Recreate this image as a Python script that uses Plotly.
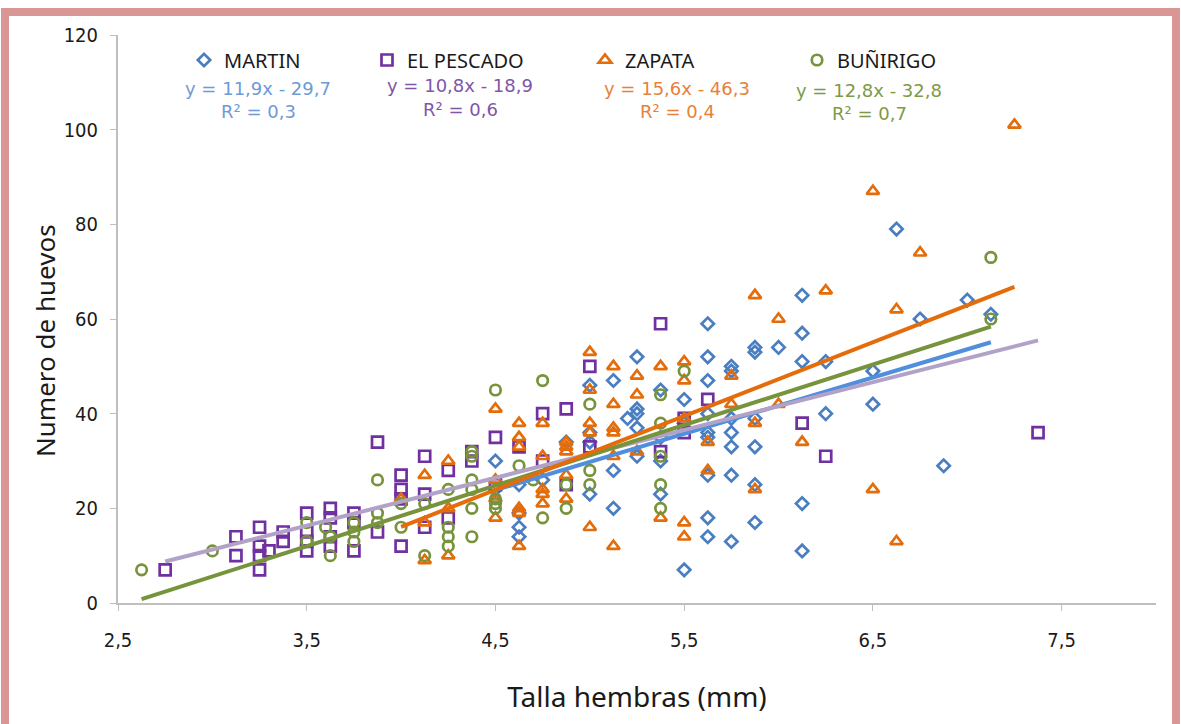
import plotly.graph_objects as go

# ---------------- data ----------------
martin_x = [4.5, 4.5, 4.625, 4.625, 4.625, 4.625, 4.75, 4.875, 5.0, 5.0, 5.0, 5.0,
            5.125, 5.125, 5.125, 5.2, 5.25, 5.25, 5.25, 5.25, 5.25, 5.375, 5.375, 5.375, 5.375,
            5.5, 5.5, 5.5, 5.625, 5.625, 5.625, 5.625, 5.625, 5.625, 5.625, 5.625, 5.625,
            5.75, 5.75, 5.75, 5.75, 5.75, 5.75, 5.75, 5.875, 5.875, 5.875, 5.875, 5.875, 5.875,
            6.0, 6.125, 6.125, 6.125, 6.125, 6.125, 6.25, 6.25, 6.5, 6.5, 6.625, 6.75, 6.875,
            7.0, 7.125]
martin_y = [24, 30, 25, 19, 16, 14, 26, 34, 46, 36, 34, 23,
            47, 28, 20, 39, 52, 41, 40, 37, 31, 45, 35, 30, 23,
            43, 38, 7, 59, 52, 47, 40, 36, 35, 27, 18, 14,
            50, 49, 39, 36, 33, 27, 13, 54, 53, 39, 33, 25, 17,
            54, 65, 57, 51, 21, 11, 51, 40, 49, 42, 79, 60, 29,
            64, 61]

pescado_x = [2.75, 3.125, 3.125, 3.25, 3.25, 3.25, 3.25, 3.3, 3.375, 3.375, 3.5, 3.5, 3.5, 3.5,
             3.625, 3.625, 3.625, 3.625, 3.75, 3.75, 3.75, 3.875, 3.875, 4.0, 4.0, 4.0, 4.0,
             4.125, 4.125, 4.125, 4.25, 4.25, 4.375, 4.375, 4.5, 4.5, 4.625, 4.75, 4.75,
             4.875, 4.875, 5.0, 5.0, 5.375, 5.375, 5.5, 5.5, 5.625, 6.125, 6.25, 7.375]
pescado_y = [7, 14, 10, 16, 12, 10, 7, 11, 15, 13, 19, 15, 13, 11,
             20, 18, 14, 12, 19, 17, 11, 34, 15, 27, 24, 22, 12,
             31, 23, 16, 28, 18, 32, 30, 35, 25, 33, 40, 30,
             41, 25, 50, 33, 59, 32, 39, 36, 43, 38, 31, 36]

zapata_x = [4.0, 4.125, 4.125, 4.125, 4.25, 4.25, 4.25, 4.5, 4.5, 4.5, 4.5,
            4.625, 4.625, 4.625, 4.625, 4.625, 4.625, 4.75, 4.75, 4.75, 4.75, 4.75,
            4.875, 4.875, 4.875, 4.875, 4.875, 5.0, 5.0, 5.0, 5.0, 5.0,
            5.125, 5.125, 5.125, 5.125, 5.125, 5.125, 5.25, 5.25, 5.25, 5.375, 5.375,
            5.5, 5.5, 5.5, 5.5, 5.5, 5.625, 5.625, 5.75, 5.75, 5.875, 5.875, 5.875,
            6.0, 6.0, 6.125, 6.25, 6.5, 6.5, 6.625, 6.625, 6.75, 7.25]
zapata_y = [22, 27, 17, 9, 30, 20, 10, 41, 26, 22, 18,
            38, 35, 33, 20, 19, 12, 38, 31, 24, 23, 21,
            34, 33, 32, 27, 22, 53, 45, 38, 36, 16,
            50, 42, 37, 36, 31, 12, 48, 44, 32, 50, 18,
            51, 47, 39, 17, 14, 34, 28, 48, 42, 65, 38, 24,
            60, 42, 34, 66, 87, 24, 62, 13, 74, 101]

bunirigo_x = [2.625, 3.0, 3.5, 3.5, 3.6, 3.625, 3.625, 3.75, 3.75, 3.75, 3.875, 3.875, 3.875,
              4.0, 4.0, 4.125, 4.125, 4.25, 4.25, 4.25, 4.25,
              4.375, 4.375, 4.375, 4.375, 4.375, 4.375, 4.5, 4.5, 4.5, 4.5, 4.625, 4.7,
              4.75, 4.75, 4.875, 4.875, 5.0, 5.0, 5.0, 5.375, 5.375, 5.375, 5.375, 5.375,
              5.5, 7.125, 7.125]
bunirigo_y = [7, 11, 17, 13, 16, 14, 10, 17, 15, 13, 26, 19, 17,
              21, 16, 21, 10, 24, 16, 14, 12,
              32, 31, 26, 24, 20, 14, 45, 22, 21, 20, 29, 26,
              47, 18, 25, 20, 42, 28, 25, 44, 38, 31, 25, 20,
              49, 73, 60]

series_names = ["MARTIN", "EL PESCADO", "ZAPATA", "BUÑIRIGO"]
equations = ["y = 11,9x - 29,7", "y = 10,8x - 18,9", "y = 15,6x - 46,3", "y = 12,8x - 32,8"]
r2_labels = ["R² = 0,3", "R² = 0,6", "R² = 0,4", "R² = 0,7"]
trend_slope = [11.9, 10.1, 15.6, 12.8]
trend_intercept = [-29.7, -19.0, -46.3, -32.8]

x_ticks = [2.5, 3.5, 4.5, 5.5, 6.5, 7.5]
y_ticks = [0, 20, 40, 60, 80, 100, 120]

# ---------------- style ----------------
marker_symbols = ["diamond-open", "square-open", "triangle-up-open", "circle-open"]
marker_sizes = [9.5, 11, 11, 10.5]
marker_colors = ["#4A7EC0", "#7030A0", "#E46C0A", "#77933C"]
line_colors = ["#4F8FDC", "#B3A2C7", "#E46C0A", "#77933C"]
eq_colors = ["#6E9AD6", "#7F56A8", "#E9803A", "#7E9A48"]

W, H = 1181, 724
L, R, T, B = 118, 25, 35, 121
pw, ph = W - L - R, H - T - B


def px2paper_x(px):
    return (px - L) / pw


def px2paper_y(py):
    return (H - B - py) / ph


xs = [martin_x, pescado_x, zapata_x, bunirigo_x]
ys = [martin_y, pescado_y, zapata_y, bunirigo_y]

fig = go.Figure()
legend_ids = ["legend", "legend2", "legend3", "legend4"]
for i in range(4):
    fig.add_trace(go.Scatter(
        x=xs[i], y=ys[i], mode="markers", name=series_names[i],
        legend=legend_ids[i],
        marker=dict(symbol=marker_symbols[i], size=marker_sizes[i],
                    color=marker_colors[i], line=dict(width=2.7, color=marker_colors[i])),
        hoverinfo="x+y"))

for i in [0, 1, 3, 2]:
    x0, x1 = min(xs[i]), max(xs[i])
    fig.add_trace(go.Scatter(
        x=[x0, x1], y=[trend_slope[i] * x0 + trend_intercept[i], trend_slope[i] * x1 + trend_intercept[i]],
        mode="lines", line=dict(color=line_colors[i], width=4), showlegend=False, hoverinfo="skip"))

legend_font = dict(family="Noto Sans, DejaVu Sans, sans-serif", size=20, color="#1a1a1a")
leg_px = [184, 367, 585, 797]
legends = {}
for i, lid in enumerate(legend_ids):
    legends[lid] = dict(x=px2paper_x(leg_px[i]), y=px2paper_y(60), xanchor="left", yanchor="middle",
                        orientation="h", bgcolor="rgba(0,0,0,0)", font=legend_font,
                        itemwidth=30, borderwidth=0)

eq_cx = [258, 460, 677, 869]
eq_y = [88, 85, 88, 90]
eq_font = "DejaVu Sans, Noto Sans, sans-serif"
eq_font_size = 18
annotations = []
for i in range(4):
    annotations.append(dict(x=px2paper_x(eq_cx[i]), y=px2paper_y(eq_y[i]), xref="paper", yref="paper",
                            text=equations[i], showarrow=False, xanchor="center", yanchor="middle",
                            font=dict(family=eq_font, size=eq_font_size, color=eq_colors[i])))
    annotations.append(dict(x=px2paper_x(eq_cx[i]), y=px2paper_y(eq_y[i] + 24), xref="paper", yref="paper",
                            text=r2_labels[i], showarrow=False, xanchor="center", yanchor="middle",
                            font=dict(family=eq_font, size=eq_font_size, color=eq_colors[i])))

title_font = dict(family="Noto Sans, DejaVu Sans, sans-serif", size=26, color="#1a1a1a")
annotations.append(dict(x=px2paper_x(45), y=px2paper_y(341), xref="paper", yref="paper",
                        text="Numero de huevos", textangle=-90, showarrow=False,
                        xanchor="center", yanchor="middle", font=title_font))

shapes = [dict(type="rect", xref="paper", yref="paper",
               x0=px2paper_x(5), x1=px2paper_x(1176), y0=px2paper_y(760), y1=px2paper_y(12),
               line=dict(color="#DA9694", width=8), fillcolor="rgba(0,0,0,0)", layer="below")]

tick_font = dict(family="Liberation Sans Narrow, Arial Narrow, DejaVu Sans Condensed, sans-serif", size=20, color="#1a1a1a")

fig.update_layout(
    width=W, height=H, margin=dict(l=L, r=R, t=T, b=B, autoexpand=False),
    paper_bgcolor="white", plot_bgcolor="white",
    separators=",.",
    showlegend=True,
    **legends,
    annotations=annotations, shapes=shapes,
    xaxis=dict(range=[2.5, 8.0], tickvals=x_ticks, tickformat=".1f", showgrid=False, zeroline=False,
               showline=True, linecolor="#BFBFBF", linewidth=2, ticks="outside", ticklen=6,
               tickcolor="#BFBFBF", tickwidth=1, tickfont=tick_font, ticklabelstandoff=12,
               title=dict(text="Talla hembras (mm)", font=dict(title_font, size=28), standoff=36)),
    yaxis=dict(range=[0, 120], tickvals=y_ticks, showgrid=False, zeroline=False,
               showline=True, linecolor="#BFBFBF", linewidth=2, ticks="outside", ticklen=6,
               tickcolor="#BFBFBF", tickwidth=1, tickfont=tick_font, ticklabelstandoff=8),
)

fig.write_html("out.html", config={"displayModeBar": False},
               post_script="document.body.style.margin='0';document.body.style.overflow='hidden';")
